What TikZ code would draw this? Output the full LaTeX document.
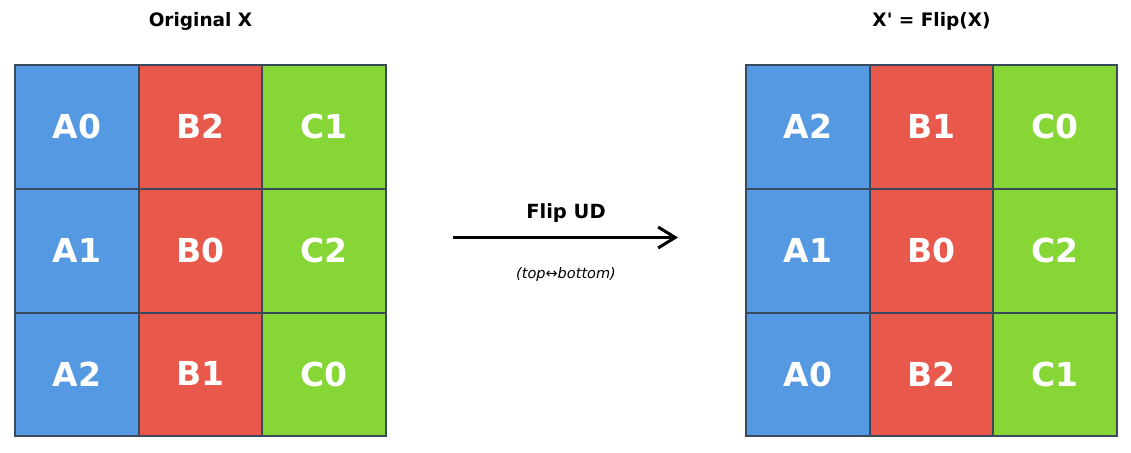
\documentclass[tikz,border=0pt]{standalone}
\usepackage{fontspec}
\setmainfont{DejaVu Sans}
\usetikzlibrary{arrows.meta}
\definecolor{cblue}{HTML}{5599E2}
\definecolor{cred}{HTML}{E8594B}
\definecolor{cgreen}{HTML}{86D636}
\definecolor{cedge}{HTML}{3A4A5C}
\newcommand{\cl}[1]{\raisebox{1.5pt}{#1}}
\tikzset{
  cell/.style={draw=cedge, line width=2pt, minimum width=123.7pt, minimum height=123.7pt,
    inner sep=0pt, text=white, font=\fontsize{33}{33}\selectfont\bfseries, anchor=center},
  bl/.style={cell, fill=cblue},
  rd/.style={cell, fill=cred},
  gr/.style={cell, fill=cgreen},
  title/.style={font=\fontsize{18.5}{18.5}\selectfont\bfseries, text=black},
  optitle/.style={font=\fontsize{19.5}{19.5}\selectfont\bfseries, text=black},
  note/.style={font=\fontsize{14.5}{14.5}\selectfont\itshape, text=black},
  flow/.style={line width=3pt, -{Straight Barb[length=17pt,width=21pt,line width=3pt]}}
}
\begin{document}
\begin{tikzpicture}[x=1pt,y=-1pt]
\useasboundingbox (0,0) rectangle (1131,452);
% left grid
\node[bl] (la0) at (76.8,127.2) {\cl{A0}};
\node[rd] (lb2) at (200.5,127.2) {\cl{B2}};
\node[gr] (lc1) at (324.2,127.2) {\cl{C1}};
\node[bl] (la1) at (76.8,250.9) {\cl{A1}};
\node[rd] (lb0) at (200.5,250.9) {\cl{B0}};
\node[gr] (lc2) at (324.2,250.9) {\cl{C2}};
\node[bl] (la2) at (76.8,374.6) {\cl{A2}};
\node[rd] (lb1) at (200.5,374.6) {\cl{B1}};
\node[gr] (lc0) at (324.2,374.6) {\cl{C0}};
% right grid
\node[bl] (ra2) at (807.8,127.2) {\cl{A2}};
\node[rd] (rb1) at (931.5,127.2) {\cl{B1}};
\node[gr] (rc0) at (1055.2,127.2) {\cl{C0}};
\node[bl] (ra1) at (807.8,250.9) {\cl{A1}};
\node[rd] (rb0) at (931.5,250.9) {\cl{B0}};
\node[gr] (rc2) at (1055.2,250.9) {\cl{C2}};
\node[bl] (ra0) at (807.8,374.6) {\cl{A0}};
\node[rd] (rb2) at (931.5,374.6) {\cl{B2}};
\node[gr] (rc1) at (1055.2,374.6) {\cl{C1}};
% titles
\node[title] (t1) at (200.5,21.5) {Original X};
\node[title] (t2) at (931.5,21.5) {X\textquotesingle{} = Flip(X)};
% arrow
\coordinate (as) at (453,237.5);
\coordinate (ae) at (678,237.5);
\draw[flow] (as) -- (ae);
\node[optitle] (fl) at (566,213.5) {Flip UD};
\node[note] (nt) at (566,274) {(top↔bottom)};
\end{tikzpicture}
\end{document}
